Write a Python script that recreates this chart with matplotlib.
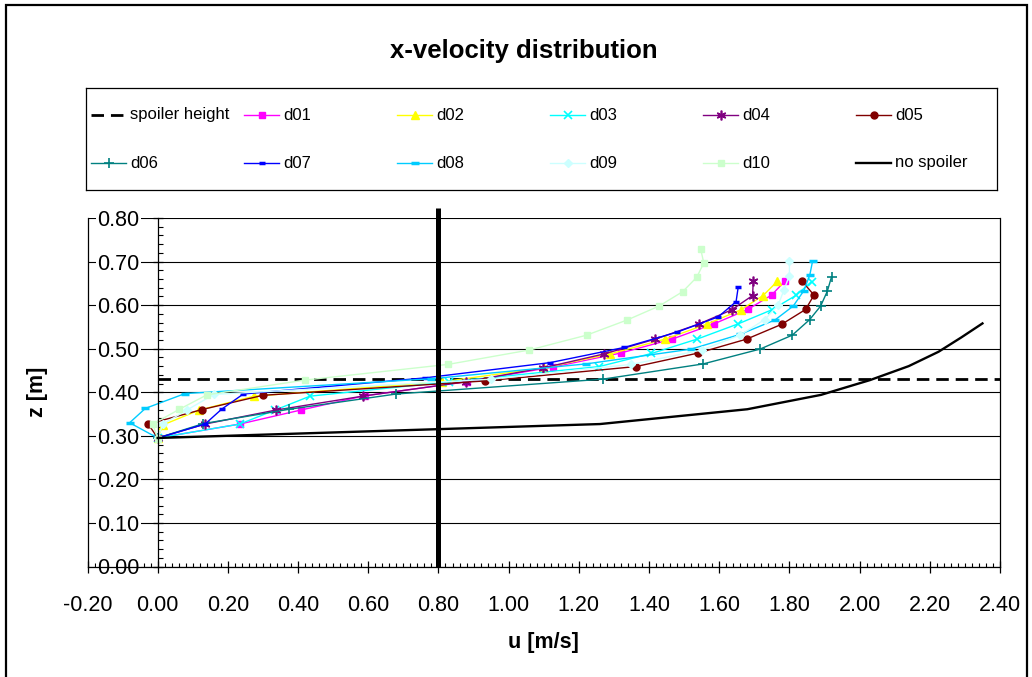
import matplotlib
matplotlib.use('Agg')
import matplotlib.pyplot as plt
from matplotlib.ticker import MultipleLocator, FormatStrFormatter
from matplotlib.patches import Rectangle

plt.rcParams['font.family'] = ['Liberation Sans', 'DejaVu Sans']

# values: u [m/s] against z [m]
spoiler_u = [0.0, 2.4]
spoiler_z = [0.43, 0.43]
ref_u = [0.8, 0.8]          # thick vertical line at u = 0.8
ref_z = [0.0, 0.823]

d01_u = [0.0, 0.234, 0.407, 0.59, 0.88, 1.127, 1.319, 1.466, 1.585, 1.681, 1.749, 1.787]
d01_z = [0.295, 0.327, 0.359, 0.392, 0.424, 0.458, 0.490, 0.522, 0.557, 0.590, 0.623, 0.655]
d02_u = [0.0, 0.015, 0.118, 0.275, 0.811, 1.10, 1.289, 1.446, 1.564, 1.661, 1.725, 1.766]
d02_z = [0.295, 0.325, 0.359, 0.391, 0.424, 0.456, 0.488, 0.522, 0.556, 0.589, 0.622, 0.655]
d03_u = [0.0, 0.234, 0.334, 0.434, 0.83, 1.258, 1.407, 1.537, 1.654, 1.749, 1.82, 1.863]
d03_z = [0.295, 0.327, 0.359, 0.391, 0.424, 0.459, 0.489, 0.522, 0.557, 0.589, 0.623, 0.654]
d04_u = [0.0, 0.135, 0.336, 0.584, 0.878, 1.099, 1.272, 1.418, 1.543, 1.635, 1.695, 1.697]
d04_z = [0.295, 0.327, 0.359, 0.391, 0.424, 0.456, 0.488, 0.522, 0.557, 0.589, 0.622, 0.655]
d05_u = [0.0, -0.027, 0.125, 0.30, 0.933, 1.363, 1.54, 1.678, 1.778, 1.846, 1.87, 1.836]
d05_z = [0.295, 0.327, 0.360, 0.393, 0.426, 0.459, 0.490, 0.522, 0.556, 0.590, 0.623, 0.655]
d06_u = [0.0, 0.13, 0.375, 0.68, 1.268, 1.554, 1.716, 1.808, 1.858, 1.889, 1.908, 1.92]
d06_z = [0.295, 0.328, 0.361, 0.396, 0.430, 0.465, 0.499, 0.531, 0.567, 0.598, 0.632, 0.665]
d07_u = [0.0, 0.135, 0.182, 0.244, 0.762, 1.118, 1.33, 1.48, 1.597, 1.648, 1.654]
d07_z = [0.295, 0.327, 0.361, 0.396, 0.433, 0.468, 0.503, 0.538, 0.573, 0.608, 0.641]
d08_u = [0.0, -0.08, -0.035, 0.078, 0.78, 1.22, 1.52, 1.66, 1.759, 1.811, 1.841, 1.858, 1.866]
d08_z = [0.295, 0.330, 0.363, 0.397, 0.431, 0.465, 0.499, 0.533, 0.566, 0.598, 0.633, 0.669, 0.701]
d09_u = [0.0, 0.015, 0.083, 0.16, 0.95, 1.35, 1.55, 1.659, 1.73, 1.768, 1.784, 1.80, 1.80]
d09_z = [0.295, 0.327, 0.359, 0.395, 0.430, 0.464, 0.497, 0.531, 0.567, 0.600, 0.634, 0.668, 0.701]
d10_u = [0.0, -0.014, 0.062, 0.14, 0.42, 0.828, 1.059, 1.222, 1.338, 1.429, 1.496, 1.536, 1.556, 1.547]
d10_z = [0.293, 0.327, 0.361, 0.394, 0.428, 0.464, 0.497, 0.531, 0.566, 0.598, 0.631, 0.664, 0.697, 0.729]
nosp_u = [0.0, 1.26, 1.68, 1.89, 2.03, 2.14, 2.225, 2.29, 2.35]
nosp_z = [0.295, 0.327, 0.361, 0.394, 0.428, 0.460, 0.493, 0.526, 0.558]

x_ticks = [-0.2, 0.0, 0.2, 0.4, 0.6, 0.8, 1.0, 1.2, 1.4, 1.6, 1.8, 2.0, 2.2, 2.4]
y_ticks = [0.0, 0.1, 0.2, 0.3, 0.4, 0.5, 0.6, 0.7, 0.8]

# name, u, z, style
series = [
    ('spoiler height', spoiler_u, spoiler_z, dict(color='black', lw=2.0, dashes=(4.5, 2.5))),
    ('d01', d01_u, d01_z, dict(color='#FF00FF', marker='s', ms=5)),
    ('d02', d02_u, d02_z, dict(color='#FFFF00', marker='^', ms=6)),
    ('d03', d03_u, d03_z, dict(color='#00FFFF', marker='x', ms=6, mew=1.2)),
    ('d04', d04_u, d04_z, dict(color='#800080', marker=(6, 2, 0), ms=7, mew=1.2)),
    ('d05', d05_u, d05_z, dict(color='#800000', marker='o', ms=5)),
    ('d06', d06_u, d06_z, dict(color='#008080', marker='+', ms=7, mew=1.2)),
    ('d07', d07_u, d07_z, dict(color='#0000FF', marker='_', ms=4, mew=2.5)),
    ('d08', d08_u, d08_z, dict(color='#00CCFF', marker='_', ms=6, mew=2.5)),
    ('d09', d09_u, d09_z, dict(color='#CCFFFF', marker='D', ms=4.5)),
    ('d10', d10_u, d10_z, dict(color='#CCFFCC', marker='s', ms=5)),
    ('no spoiler', nosp_u, nosp_z, dict(color='black', lw=1.7)),
]

W, H = 1032, 677
fig = plt.figure(figsize=(W / 100, H / 100), dpi=100)
ax = fig.add_axes([87.5 / W, 1 - 566.5 / H, 912.5 / W, 348.5 / H])

for name, u, z, st in series:
    kw = dict(lw=1.0)
    kw.update(st)
    ax.plot(u, z, clip_on=False, **kw)
ax.plot(ref_u, ref_z, color='black', lw=3.6, solid_capstyle='butt', clip_on=False)

ax.set_xlim(-0.2, 2.4)
ax.set_ylim(0, 0.8)
ax.set_xticks(x_ticks)
ax.set_yticks(y_ticks)
ax.xaxis.set_minor_locator(MultipleLocator(0.02))
ax.yaxis.set_minor_locator(MultipleLocator(0.02))
ax.xaxis.set_major_formatter(FormatStrFormatter('%.2f'))
ax.yaxis.set_major_formatter(FormatStrFormatter('%.2f'))

ax.spines['top'].set_visible(False)
ax.spines['right'].set_position(('data', 0))
for sp in ax.spines.values():
    sp.set_linewidth(0.9)
ax.axvline(2.4, color='black', lw=0.9, clip_on=False)
ax.yaxis.grid(True, which='major', color='black', lw=0.8)

ax.tick_params(axis='x', which='major', direction='inout', length=8, width=0.9,
               pad=16.5, labelsize=15.5, top=False)
ax.tick_params(axis='x', which='minor', direction='in', length=3, width=0.8, top=False)
ax.tick_params(axis='y', which='both', left=False, right=True, labelleft=True, labelright=False)
ax.tick_params(axis='y', which='major', direction='inout', length=7, width=0.9,
               pad=-41, labelsize=15.5)
ax.tick_params(axis='y', which='minor', direction='out', length=3.5, width=0.8)
for lab in ax.get_yticklabels():
    lab.set_bbox(dict(facecolor='white', edgecolor='none', pad=1))

ax.set_xlabel('u [m/s]', fontsize=15.5, fontweight='bold')
ax.xaxis.set_label_coords(0.5, -0.188)
ax.set_ylabel('z [m]', fontsize=15.5, fontweight='bold')
ax.yaxis.set_label_coords(-0.043, 0.5)

fig.text(0.508, 1 - 51 / H, 'x-velocity distribution', ha='center', va='center',
         fontsize=18.5, fontweight='bold')

# legend box, 6 equally spaced columns as in the original
lax = fig.add_axes([86 / W, 1 - 190 / H, 911 / W, 102 / H])
lax.set_xlim(0, 911)
lax.set_ylim(102, 0)
lax.set_xticks([])
lax.set_yticks([])
for sp in lax.spines.values():
    sp.set_linewidth(0.9)
for i, (name, u, z, st) in enumerate(series):
    col, row = i % 6, i // 6
    x0 = 5 + col * 153
    y0 = 27 + row * 48
    kw = dict(lw=1.0)
    kw.update({k: v for k, v in st.items() if k not in ('marker', 'ms', 'mew')})
    lax.plot([x0, x0 + 35], [y0, y0], **kw)
    if 'marker' in st:
        lax.plot([x0 + 17.5], [y0], color=st['color'], marker=st['marker'],
                 ms=st.get('ms', 5), mew=st.get('mew', 1.0), ls='none')
    lax.text(x0 + 39, y0, name, va='center', ha='left', fontsize=12)

fig.patches.append(Rectangle((6 / W, -0.05), 1021 / W, 1 - 5 / H + 0.05,
                             transform=fig.transFigure, fill=False, lw=1.6,
                             edgecolor='black'))

fig.savefig('out.png', dpi=100)
